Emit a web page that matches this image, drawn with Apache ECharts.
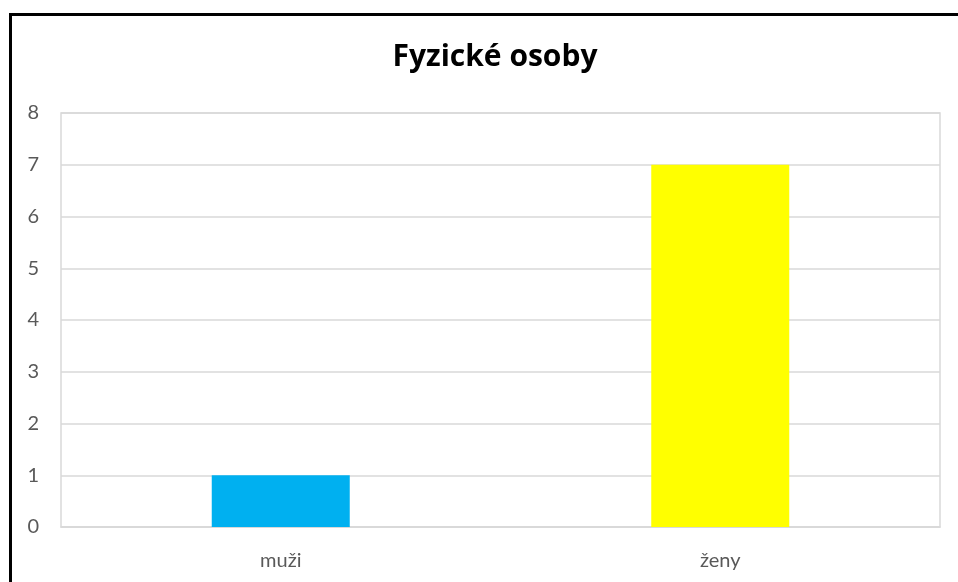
<!DOCTYPE html>
<html>
<head>
<meta charset="utf-8">
<script src="https://cdn.jsdelivr.net/npm/echarts@6/dist/echarts.min.js"></script>
<style>
html,body{margin:0;padding:0;background:#fff;}
#chart{width:958px;height:582px;}
</style>
</head>
<body>
<div id="chart"></div>
<script>
const titleText = 'Fyzické osoby';
const categories = ['muži', 'ženy'];
const values = [1, 7];
const barColors = ['#00B0F0', '#FFFF00'];
const yMin = 0, yMax = 8, yStep = 1;

const chart = echarts.init(document.getElementById('chart'), null, {renderer: 'canvas'});
chart.setOption({
  animation: false,
  backgroundColor: '#ffffff',
  title: {
    text: titleText,
    left: 490, top: 37, textAlign: 'center',
    textStyle: {fontFamily: 'Open Sans', fontWeight: 'bold', fontSize: 30, color: '#000'}
  },
  grid: {left: 61, right: 18, top: 113, bottom: 55, show: true, borderColor: '#d9d9d9', borderWidth: 1.5, containLabel: false},
  xAxis: {
    type: 'category', data: categories,
    axisLine: {show: true, lineStyle: {color: '#d9d9d9', width: 1.5}},
    axisTick: {show: false},
    axisLabel: {color: '#595959', fontSize: 20, fontFamily: 'Lato', margin: 24}
  },
  yAxis: {
    type: 'value', min: yMin, max: yMax, interval: yStep,
    axisLine: {show: false}, axisTick: {show: false},
    splitLine: {lineStyle: {color: '#d9d9d9', width: 1.5}},
    axisLabel: {color: '#595959', fontSize: 20, fontFamily: 'Lato', margin: 22}
  },
  graphic: [
    {type: 'rect', shape: {x: 9, y: 13, width: 960, height: 3}, style: {fill: '#000'}, z: 100},
    {type: 'rect', shape: {x: 9, y: 13, width: 3, height: 580}, style: {fill: '#000'}, z: 100}
  ],
  series: [{
    type: 'bar',
    barWidth: 138,
    data: values.map((v, i) => ({value: v, itemStyle: {color: barColors[i]}}))
  }]
});
</script>
</body>
</html>
